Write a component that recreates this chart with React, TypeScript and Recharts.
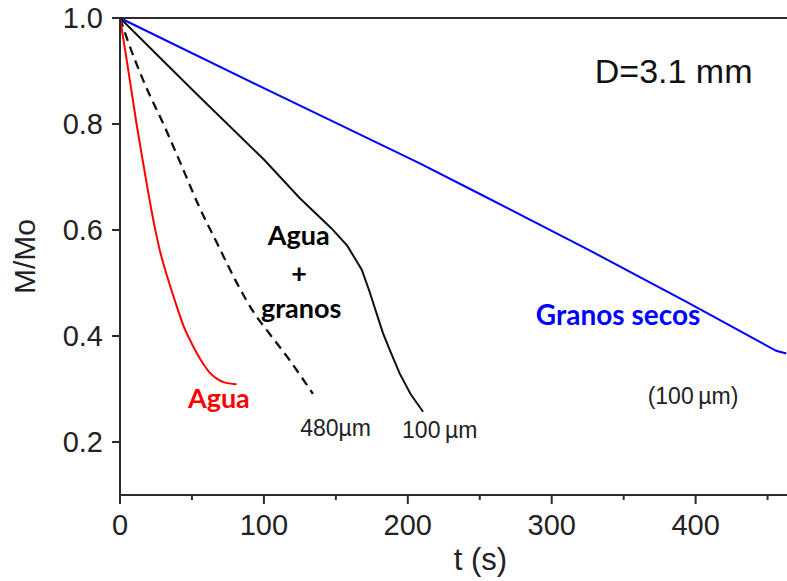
import React from "react";
import { ComposedChart, Line, Scatter, XAxis, YAxis, ReferenceLine } from "recharts";

// Relative mass M/Mo against time t (s), drop diameter D = 3.1 mm
const aguaData = [
  { t: 0, v: 1.0 },
  { t: 5, v: 0.915 },
  { t: 11.5, v: 0.8 },
  { t: 16.5, v: 0.72 },
  { t: 20, v: 0.665 },
  { t: 24.3, v: 0.603 },
  { t: 28, v: 0.558 },
  { t: 32.5, v: 0.515 },
  { t: 38, v: 0.468 },
  { t: 44, v: 0.42 },
  { t: 50, v: 0.385 },
  { t: 57.7, v: 0.348 },
  { t: 62, v: 0.332 },
  { t: 67, v: 0.32 },
  { t: 72, v: 0.313 },
  { t: 81, v: 0.309 },
];

const granos480Data = [
  { t: 0, v: 1.0 },
  { t: 5, v: 0.96 },
  { t: 17, v: 0.877 },
  { t: 31, v: 0.795 },
  { t: 43, v: 0.72 },
  { t: 54.5, v: 0.647 },
  { t: 68, v: 0.572 },
  { t: 82, v: 0.496 },
  { t: 94, v: 0.44 },
  { t: 102, v: 0.411 },
  { t: 118, v: 0.354 },
  { t: 134, v: 0.291 },
];

const granos100Data = [
  { t: 0, v: 1.0 },
  { t: 52, v: 0.86 },
  { t: 100, v: 0.733 },
  { t: 125, v: 0.66 },
  { t: 147, v: 0.603 },
  { t: 158, v: 0.57 },
  { t: 168, v: 0.525 },
  { t: 173.5, v: 0.483 },
  { t: 178, v: 0.445 },
  { t: 182.8, v: 0.405 },
  { t: 188, v: 0.37 },
  { t: 194.4, v: 0.329 },
  { t: 202, v: 0.29 },
  { t: 210.6, v: 0.257 },
];

const secosData = [
  { t: 0, v: 1.0 },
  { t: 105, v: 0.861 },
  { t: 208, v: 0.726 },
  { t: 245, v: 0.675 },
  { t: 326, v: 0.562 },
  { t: 394, v: 0.464 },
  { t: 456, v: 0.372 },
  { t: 463, v: 0.367 },
];

const xTicks = [0, 50, 100, 150, 200, 250, 300, 350, 400, 450];
const yTicks = [0.2, 0.4, 0.6, 0.8, 1.0];

// text placed at (t, v), anchored at the middle of its baseline
const notes = [
  { t: 68.7, v: 0.265, text: "Agua", kind: "agua" },
  { t: 124.2, v: 0.572, text: "Agua", kind: "mezcla" },
  { t: 124.5, v: 0.5, text: "+", kind: "mezcla" },
  { t: 125.9, v: 0.434, text: "granos", kind: "mezcla" },
  { t: 346.1, v: 0.42, text: "Granos secos", kind: "secos" },
  { t: 149.8, v: 0.211, text: "480µm", kind: "size" },
  { t: 222.2, v: 0.208, text: "100\u2009µm", kind: "size" },
  { t: 398.2, v: 0.271, text: "(100\u2009µm)", kind: "size" },
  { t: 384.7, v: 0.877, text: "D=3.1 mm", kind: "title" },
];

const SANS = "'Liberation Sans', Arial, sans-serif";
const BOLD = "Lato, 'Open Sans', sans-serif";
const AXIS = "#2b2b2b";

const noteStyles: Record<string, any> = {
  agua: { fill: "#ff0000", fontSize: 27, fontWeight: 700, fontFamily: BOLD },
  mezcla: { fill: "#000", fontSize: 27, fontWeight: 700, fontFamily: BOLD },
  secos: { fill: "#0000ff", fontSize: 28, fontWeight: 700, fontFamily: BOLD },
  size: { fill: "#222", fontSize: 23, fontWeight: 400, fontFamily: SANS },
  title: { fill: "#111", fontSize: 34, fontWeight: 400, fontFamily: SANS },
};

const NoteShape = (props: any) => {
  const { cx, cy, payload } = props;
  return (
    <text x={cx} y={cy} textAnchor="middle" {...noteStyles[payload.kind]}>
      {payload.text}
    </text>
  );
};

// major ticks every 100 s with labels, minor ticks in between
const TimeTick = (props: any) => {
  const { x, y, payload } = props;
  const major = payload.value % 100 === 0;
  return (
    <g>
      <line x1={x} y1={y} x2={x} y2={y + (major ? 9 : 5)} stroke={AXIS} strokeWidth={2} />
      {major && (
        <text x={x} y={y + 40} textAnchor="middle" fill="#222" fontSize={29} fontFamily={SANS}>
          {payload.value}
        </text>
      )}
    </g>
  );
};

const XTitle = (props: any) => {
  const { x, y, width } = props.viewBox;
  return (
    <text x={x + width / 2 + 27} y={y + 75} textAnchor="middle" fill="#222" fontSize={31} fontFamily={SANS}>
      t (s)
    </text>
  );
};

const YTitle = (props: any) => {
  const { y, height } = props.viewBox;
  const cy = y + height / 2;
  return (
    <text
      x={35}
      y={cy}
      transform={`rotate(-90, 35, ${cy})`}
      textAnchor="middle"
      fill="#222"
      fontSize={30}
      fontFamily={SANS}
    >
      M/Mo
    </text>
  );
};

export default function App() {
  return (
    <div style={{ position: "absolute", left: 0, top: 0, background: "#fff" }}>
      <ComposedChart width={787} height={581} margin={{ top: 18, right: 0, bottom: 0, left: 0 }}>
        <XAxis
          type="number"
          dataKey="t"
          domain={[0, 463.5]}
          ticks={xTicks}
          interval={0}
          height={86}
          tickSize={0}
          tickMargin={0}
          tickLine={false}
          tick={<TimeTick />}
          axisLine={{ stroke: AXIS, strokeWidth: 2 }}
          label={XTitle}
        />
        <YAxis
          type="number"
          dataKey="v"
          domain={[0.1, 1.0]}
          ticks={yTicks}
          interval={0}
          width={120}
          tickSize={8}
          tickMargin={9}
          tickLine={{ stroke: AXIS, strokeWidth: 2 }}
          axisLine={{ stroke: AXIS, strokeWidth: 2 }}
          tick={{ fill: "#222", fontSize: 29, fontFamily: SANS }}
          tickFormatter={(v: number) => v.toFixed(1)}
          label={YTitle}
        />
        <ReferenceLine y={1.0} stroke={AXIS} strokeWidth={2} />
        <Line data={secosData} dataKey="v" type="linear" stroke="#0000ff" strokeWidth={2} dot={false} isAnimationActive={false} />
        <Line data={granos100Data} dataKey="v" type="linear" stroke="#111" strokeWidth={2} dot={false} isAnimationActive={false} />
        <Line
          data={granos480Data}
          dataKey="v"
          type="monotone"
          stroke="#111"
          strokeWidth={2.3}
          strokeDasharray="9 6"
          dot={false}
          isAnimationActive={false}
        />
        <Line data={aguaData} dataKey="v" type="monotone" stroke="#ff0000" strokeWidth={2} dot={false} isAnimationActive={false} />
        <Scatter data={notes} dataKey="v" shape={NoteShape} isAnimationActive={false} />
      </ComposedChart>
    </div>
  );
}
